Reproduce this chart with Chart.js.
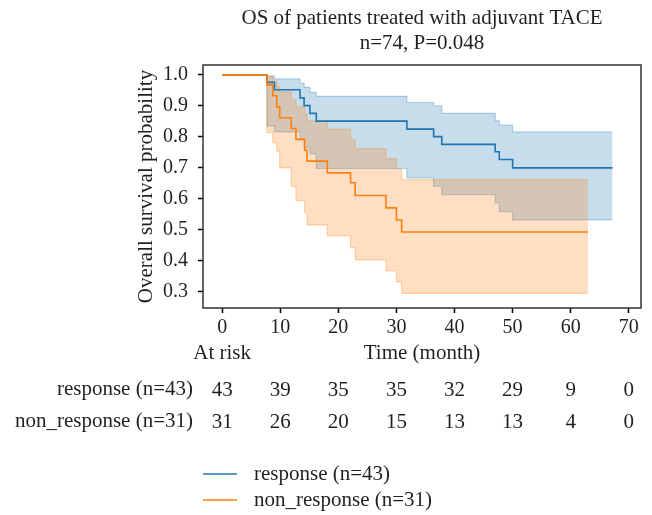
<!DOCTYPE html>
<html>
<head>
<meta charset="utf-8">
<script src="https://cdn.jsdelivr.net/npm/chart.js@4.4.1/dist/chart.umd.min.js"></script>
<style>
  html, body { margin: 0; padding: 0; background: #fff; }
</style>
</head>
<body>
<canvas id="myChart" width="652" height="515"></canvas>
<script>
// response (n=43) - KM estimate and 95% CI
var respTime  = [0, 7.7, 9.0, 13.4, 14.1, 15.1, 16.2, 31.8, 36.4, 37.8, 47.0, 47.7, 50.0, 67.2];
var respSurv  = [1, 0.976, 0.952, 0.926, 0.901, 0.876, 0.851, 0.825, 0.801, 0.776, 0.752, 0.727, 0.700, 0.700];
var respUpper = [1, 0.996, 0.987, 0.974, 0.960, 0.944, 0.931, 0.911, 0.900, 0.876, 0.852, 0.838, 0.816, 0.816];
var respLower = [1, 0.835, 0.816, 0.790, 0.765, 0.745, 0.698, 0.668, 0.641, 0.614, 0.587, 0.559, 0.532, 0.532];

// non_response (n=31)
var nonTime  = [0, 7.7, 8.7, 9.4, 9.9, 11.9, 12.7, 14.2, 14.6, 18.1, 22.1, 22.9, 28.2, 30.0, 30.9, 63.0];
var nonSurv  = [1, 0.968, 0.933, 0.897, 0.862, 0.827, 0.792, 0.757, 0.722, 0.684, 0.652, 0.611, 0.571, 0.532, 0.493, 0.493];
var nonUpper = [1, 0.995, 0.980, 0.963, 0.946, 0.922, 0.897, 0.875, 0.852, 0.825, 0.792, 0.762, 0.730, 0.695, 0.662, 0.662];
var nonLower = [1, 0.814, 0.781, 0.754, 0.700, 0.640, 0.594, 0.556, 0.516, 0.481, 0.443, 0.403, 0.368, 0.332, 0.295, 0.295];

var xTicks = [0, 10, 20, 30, 40, 50, 60, 70];
var yTicks = [0.3, 0.4, 0.5, 0.6, 0.7, 0.8, 0.9, 1.0];

var riskResp = [43, 39, 35, 35, 32, 29, 9, 0];
var riskNon  = [31, 26, 20, 15, 13, 13, 4, 0];

var groupNames = ['response (n=43)', 'non_response (n=31)'];
var titleLines = ['OS of patients treated with adjuvant TACE', 'n=74, P=0.048'];

var BLUE = '#1f77b4';
var ORANGE = '#ff7f0e';
var TXT = '#231f20';
var FONT = '"Liberation Serif", "Times New Roman", serif';

function pts(t, v) {
    var out = [];
    for (var i = 0; i < t.length; i++) {
        out.push({x: t[i], y: v[i]});
    }
    return out;
}

function line(data, color) {
    return {data: data, borderColor: color, borderWidth: 1.6, pointRadius: 0,
            stepped: true, fill: false, tension: 0};
}

function band(data, color, fill, fillColor) {
    return {data: data, borderColor: color, borderWidth: 1.2, pointRadius: 0,
            stepped: true, fill: fill, backgroundColor: fillColor, tension: 0};
}

var frame = {
    id: 'frame',
    afterDatasetsDraw: function (chart) {
        var a = chart.chartArea, ctx = chart.ctx;
        ctx.save();
        ctx.strokeStyle = '#333';
        ctx.lineWidth = 1.5;
        ctx.strokeRect(a.left, a.top, a.right - a.left, a.bottom - a.top);
        ctx.restore();
    }
};

var texts = {
    id: 'texts',
    afterDraw: function (chart) {
        var ctx = chart.ctx, a = chart.chartArea, xs = chart.scales.x;
        var mid = (a.left + a.right) / 2;
        ctx.save();
        ctx.fillStyle = TXT;
        ctx.font = '21px ' + FONT;
        ctx.textAlign = 'center';
        ctx.textBaseline = 'middle';
        ctx.fillText(titleLines[0], mid, 18);
        ctx.fillText(titleLines[1], mid, 43);

        ctx.fillText('At risk', xs.getPixelForValue(0), 353);
        ctx.fillText('Time (month)', mid, 353);

        var rows = [riskResp, riskNon];
        var ys = [389, 421];
        for (var r = 0; r < rows.length; r++) {
            ctx.textAlign = 'right';
            ctx.fillText(groupNames[r], 193, ys[r]);
            ctx.textAlign = 'center';
            for (var i = 0; i < xTicks.length; i++) {
                ctx.fillText(String(rows[r][i]), xs.getPixelForValue(xTicks[i]), ys[r] + 1);
            }
        }

        // legend
        var cols = [BLUE, ORANGE];
        var ly = [474, 500];
        for (var k = 0; k < 2; k++) {
            ctx.strokeStyle = cols[k];
            ctx.lineWidth = 1.6;
            ctx.beginPath();
            ctx.moveTo(203, ly[k]);
            ctx.lineTo(237, ly[k]);
            ctx.stroke();
            ctx.textAlign = 'left';
            ctx.fillText(groupNames[k], 254, ly[k]);
        }
        ctx.restore();
    }
};

var ctx = document.getElementById('myChart').getContext('2d');
var chart = new Chart(ctx, {
    type: 'line',
    data: {
        datasets: [
            line(pts(nonTime, nonSurv), ORANGE),
            line(pts(respTime, respSurv), BLUE),
            band(pts(nonTime, nonUpper), 'rgba(255,127,14,0.3)', '+1', 'rgba(255,127,14,0.25)'),
            band(pts(nonTime, nonLower), 'rgba(255,127,14,0.3)', false, 'rgba(0,0,0,0)'),
            band(pts(respTime, respUpper), 'rgba(31,119,180,0.3)', '+1', 'rgba(31,119,180,0.25)'),
            band(pts(respTime, respLower), 'rgba(31,119,180,0.3)', false, 'rgba(0,0,0,0)')
        ]
    },
    options: {
        responsive: false,
        animation: false,
        devicePixelRatio: 1,
        layout: {padding: {left: 130, right: 11, top: 65, bottom: 177}},
        plugins: {
            legend: {display: false},
            tooltip: {enabled: false}
        },
        scales: {
            x: {
                type: 'linear',
                min: -3.3,
                max: 72.1,
                afterBuildTicks: function (s) { s.ticks = xTicks.map(function (v) { return {value: v}; }); },
                afterFit: function (s) { s.height = 30; },
                border: {display: false},
                grid: {drawOnChartArea: false, drawTicks: true, tickLength: 5, tickColor: '#000', tickWidth: 1.5},
                ticks: {color: TXT, font: {family: FONT, size: 20}, padding: 3, maxRotation: 0,
                        callback: function (v) { return String(v); }}
            },
            y: {
                type: 'linear',
                min: 0.248,
                max: 1.032,
                afterBuildTicks: function (s) { s.ticks = yTicks.map(function (v) { return {value: v}; }); },
                afterFit: function (s) { s.width = 73; },
                border: {display: false},
                grid: {drawOnChartArea: false, drawTicks: true, tickLength: 5, tickColor: '#000', tickWidth: 1.5},
                ticks: {color: TXT, font: {family: FONT, size: 20}, padding: 10,
                        callback: function (v) { return v.toFixed(1); }},
                title: {display: true, text: 'Overall survival probability', color: TXT,
                        font: {family: FONT, size: 21}, padding: {top: 4, bottom: 4}}
            }
        }
    },
    plugins: [frame, texts]
});
</script>
</body>
</html>
